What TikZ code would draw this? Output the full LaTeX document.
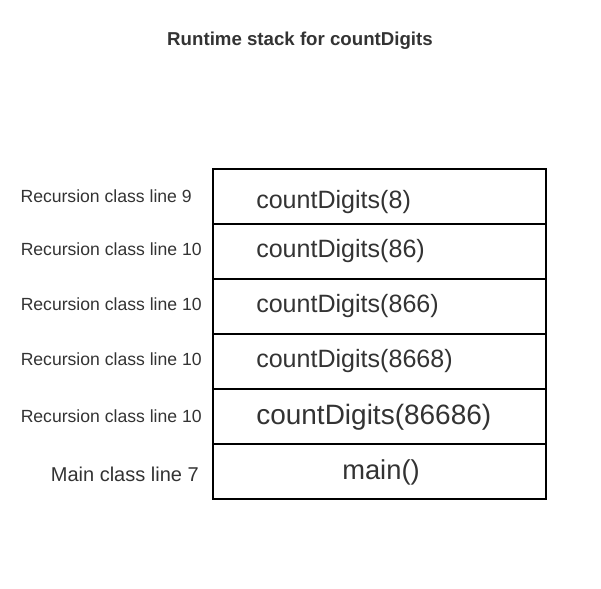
\documentclass[tikz,border=0pt]{standalone}
\usepackage{fontspec}
\setmainfont{Liberation Sans}
\usetikzlibrary{positioning}
\definecolor{txtgray}{HTML}{333333}
\tikzset{
  frame/.style={draw=black, line width=1.5pt, minimum width=333*0.75pt, minimum height=55*0.75pt, inner sep=0pt, outer sep=0pt, anchor=north west},
  calltext/.style={text=txtgray, anchor=west, inner sep=0pt, font=\fontsize{18.8}{21}\selectfont},
  linetext/.style={text=txtgray, anchor=east, inner sep=0pt, font=\fontsize{13.2}{15}\selectfont}
}
\begin{document}
\begin{tikzpicture}[x=0.75pt, y=-0.75pt]
  \useasboundingbox (0,0) rectangle (601,589);
  \node[font=\bfseries\fontsize{14}{16}\selectfont, text=txtgray] (title) at (300,41) {Runtime stack for countDigits};
  % stack frames, top to bottom
  \node[frame] (box1) at (213,169) {};
  \node[frame, below=0pt of box1] (box2) {};
  \node[frame, below=0pt of box2] (box3) {};
  \node[frame, below=0pt of box3] (box4) {};
  \node[frame, below=0pt of box4] (box5) {};
  \node[frame, below=0pt of box5] (box6) {};
  % calls
  \node[calltext] (call1) at ([xshift=43*0.75pt, yshift=-6*0.75pt]box1.west) {countDigits(8)};
  \node[calltext] (call2) at ([xshift=43*0.75pt, yshift=0*0.75pt]box2.west) {countDigits(86)};
  \node[calltext] (call3) at ([xshift=43*0.75pt, yshift=0*0.75pt]box3.west) {countDigits(866)};
  \node[calltext] (call4) at ([xshift=43*0.75pt, yshift=0*0.75pt]box4.west) {countDigits(8668)};
  \node[calltext, font=\fontsize{21}{23}\selectfont] (call5) at ([xshift=43*0.75pt, yshift=-1*0.75pt]box5.west) {countDigits(86686)};
  \node[calltext, anchor=center, font=\fontsize{20.5}{22}\selectfont] (call6) at ([xshift=1.5*0.75pt, yshift=-1*0.75pt]box6.center) {main()};
  % line labels
  \node[linetext] (lbl1) at ([xshift=-21*0.75pt]box1.west) {Recursion class line 9};
  \node[linetext] (lbl2) at ([xshift=-11*0.75pt, yshift=2.5*0.75pt]box2.west) {Recursion class line 10};
  \node[linetext] (lbl3) at ([xshift=-11*0.75pt, yshift=2.5*0.75pt]box3.west) {Recursion class line 10};
  \node[linetext] (lbl4) at ([xshift=-11*0.75pt, yshift=2.5*0.75pt]box4.west) {Recursion class line 10};
  \node[linetext] (lbl5) at ([xshift=-11*0.75pt]box5.west) {Recursion class line 10};
  \node[linetext, font=\fontsize{15}{17}\selectfont] (lbl6) at ([xshift=-14*0.75pt, yshift=-3*0.75pt]box6.west) {Main class line 7};
\end{tikzpicture}
\end{document}
